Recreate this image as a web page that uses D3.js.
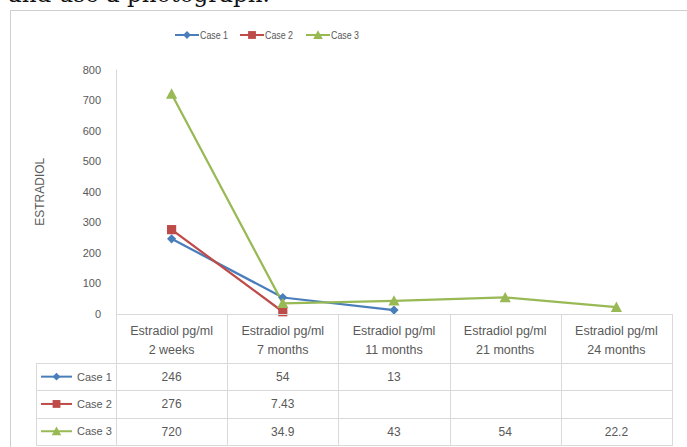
<!DOCTYPE html>
<html>
<head>
<meta charset="utf-8">
<script src="https://cdn.jsdelivr.net/npm/d3@7"></script>
<style>
  html, body { margin: 0; padding: 0; background: #fff; overflow: hidden; }
  svg { display: block; }
  text { font-family: "Liberation Sans", Arial, sans-serif; fill: #595959; }
</style>
</head>
<body>
<svg id="chart" width="687" height="447"></svg>
<script>
// Estradiol measurements per case over time
const categories = ["2 weeks", "7 months", "11 months", "21 months", "24 months"];
const categoryPrefix = "Estradiol pg/ml";
const case1 = [246, 54, 13, null, null];
const case2 = [276, 7.43, null, null, null];
const case3 = [720, 34.9, 43, 54, 22.2];
const seriesNames = ["Case 1", "Case 2", "Case 3"];
const yTicks = [0, 100, 200, 300, 400, 500, 600, 700, 800];
const yTitle = "ESTRADIOL";

const colors = ["#4a7ebb", "#be4b48", "#98b954"];
const shapes = ["diamond", "square", "triangle"];
const seriesValues = [case1, case2, case3];
const series = seriesNames.map((name, i) => ({ name, values: seriesValues[i], color: colors[i], shape: shapes[i] }));

const svg = d3.select("#chart");
const gridColor = "#d9d9d9";

// Caption text from the surrounding page, mostly cut off at the top
svg.append("text")
  .attr("x", 8).attr("y", 1.5)
  .style("font-family", "'DejaVu Serif', 'Liberation Serif', serif")
  .style("font-size", "23px")
  .style("fill", "#111")
  .text("and use a photograph.");

// Chart frame
svg.append("rect")
  .attr("x", 10.5).attr("y", 10.5)
  .attr("width", 700).attr("height", 460)
  .attr("fill", "none").attr("stroke", "#cfcfcf").attr("stroke-width", 1);

const plotLeft = 116, plotRight = 672, plotTop = 69.5, plotBottom = 314;

const x = d3.scaleBand().domain(categories).range([plotLeft, plotRight]).padding(0);
const y = d3.scaleLinear().domain([0, 800]).range([plotBottom, plotTop]);

// Y axis
const yAxis = d3.axisLeft(y).tickValues(yTicks).tickSize(0).tickPadding(15);
const gy = svg.append("g").attr("transform", `translate(${plotLeft},0)`).call(yAxis);
gy.select(".domain").attr("stroke", gridColor).attr("d", `M0.5,${plotTop}V${plotBottom}`);
gy.selectAll(".tick text")
  .style("font-family", "'Liberation Sans', Arial, sans-serif")
  .style("font-size", "11px").attr("fill", "#595959");

svg.append("text")
  .attr("transform", `translate(43.5,${(plotTop + plotBottom) / 2}) rotate(-90)`)
  .attr("text-anchor", "middle")
  .style("font-size", "12px")
  .text(yTitle);

// Marker drawing
function marker(g, shape, color, cx, cy, scale) {
  const s = scale || 1;
  if (shape === "diamond") {
    const r = 4.6 * s;
    g.append("path").attr("d", `M${cx},${cy - r}L${cx + r},${cy}L${cx},${cy + r}L${cx - r},${cy}Z`).attr("fill", color);
  } else if (shape === "square") {
    const r = 4.6 * s;
    g.append("rect").attr("x", cx - r).attr("y", cy - r).attr("width", 2 * r).attr("height", 2 * r).attr("fill", color);
  } else {
    const r = 5.6 * s;
    g.append("path").attr("d", `M${cx},${cy - r}L${cx + r},${cy + r * 0.85}L${cx - r},${cy + r * 0.85}Z`).attr("fill", color);
  }
}

// Lines and markers
const line = d3.line()
  .defined(d => d.v !== null)
  .x(d => x(d.c) + x.bandwidth() / 2)
  .y(d => y(d.v));

const gSeries = svg.append("g");
series.forEach(s => {
  const pts = categories.map((c, i) => ({ c, v: s.values[i] }));
  gSeries.append("path").datum(pts)
    .attr("d", line).attr("fill", "none")
    .attr("stroke", s.color).attr("stroke-width", 2.25).attr("stroke-linejoin", "round");
});
series.forEach(s => {
  categories.forEach((c, i) => {
    const v = s.values[i];
    if (v === null) return;
    marker(gSeries, s.shape, s.color, x(c) + x.bandwidth() / 2, y(v), 1);
  });
});

// X axis baseline
svg.append("line").attr("x1", plotLeft).attr("x2", plotRight)
  .attr("y1", plotBottom + 0.5).attr("y2", plotBottom + 0.5).attr("stroke", gridColor);

// Data table
const tableLeft = 36, headerBottom = 363, rowH = 27.3;
const tableBottom = headerBottom + rowH * series.length;
const gt = svg.append("g");
// vertical column lines
x.domain().forEach(c => {
  gt.append("line").attr("x1", Math.round(x(c)) + 0.5).attr("x2", Math.round(x(c)) + 0.5)
    .attr("y1", plotBottom).attr("y2", tableBottom).attr("stroke", gridColor);
});
gt.append("line").attr("x1", plotRight + 0.5).attr("x2", plotRight + 0.5)
  .attr("y1", plotBottom).attr("y2", tableBottom).attr("stroke", gridColor);
gt.append("line").attr("x1", tableLeft + 0.5).attr("x2", tableLeft + 0.5)
  .attr("y1", headerBottom).attr("y2", tableBottom).attr("stroke", gridColor);
// horizontal row lines
for (let r = 0; r <= series.length; r++) {
  const yy = Math.round(headerBottom + r * rowH) + 0.5;
  gt.append("line").attr("x1", tableLeft).attr("x2", plotRight + 1)
    .attr("y1", yy).attr("y2", yy).attr("stroke", gridColor);
}
// header labels
categories.forEach(c => {
  const cx = x(c) + x.bandwidth() / 2;
  const t = gt.append("text").attr("text-anchor", "middle").style("font-size", "12.5px");
  t.append("tspan").attr("x", cx).attr("y", 334.5).text(categoryPrefix);
  t.append("tspan").attr("x", cx).attr("y", 354).text(c);
});
// rows
series.forEach((s, r) => {
  const cy = headerBottom + r * rowH + rowH / 2;
  gt.append("line").attr("x1", 41).attr("x2", 72).attr("y1", cy).attr("y2", cy)
    .attr("stroke", s.color).attr("stroke-width", 2);
  marker(gt, s.shape, s.color, 56.5, cy, 0.85);
  gt.append("text").attr("x", 77).attr("y", cy + 4).style("font-size", "11px").text(s.name);
  categories.forEach((c, i) => {
    const v = s.values[i];
    if (v === null) return;
    gt.append("text").attr("x", x(c) + x.bandwidth() / 2).attr("y", cy + 4.5)
      .attr("text-anchor", "middle").style("font-size", "12px").text(String(v));
  });
});

// Legend
const legendX = [175, 240, 306];
const gl = svg.append("g");
series.forEach((s, i) => {
  const lx = legendX[i], ly = 35;
  gl.append("line").attr("x1", lx).attr("x2", lx + 24).attr("y1", ly).attr("y2", ly)
    .attr("stroke", s.color).attr("stroke-width", 2);
  marker(gl, s.shape, s.color, lx + 12, ly, 0.85);
  gl.append("text").attr("x", lx + 25).attr("y", ly + 4)
    .style("font-size", "11px")
    .attr("textLength", 28).attr("lengthAdjust", "spacingAndGlyphs")
    .text(s.name);
});
</script>
</body>
</html>
